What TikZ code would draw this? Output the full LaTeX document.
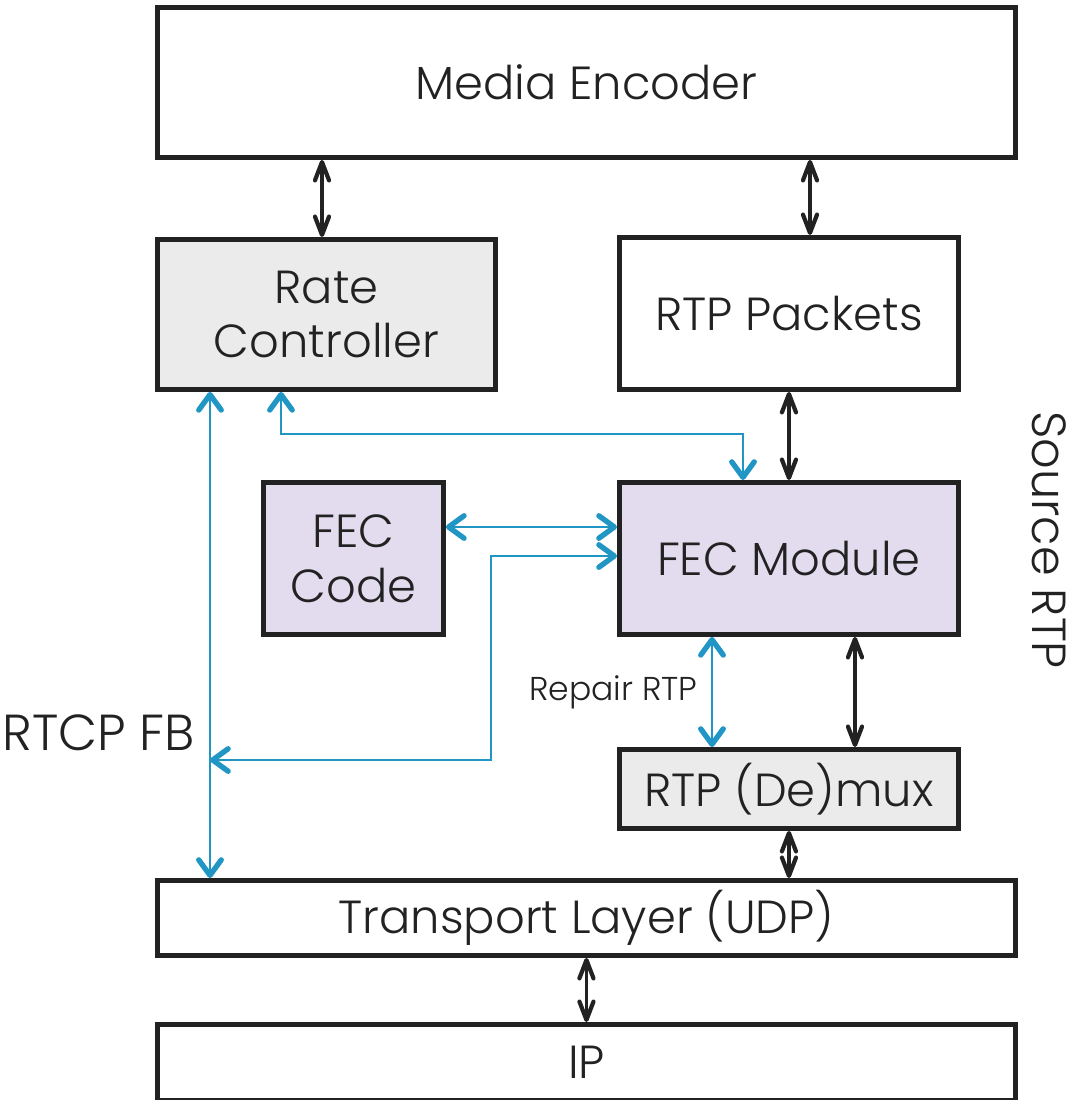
\documentclass[tikz,border=0pt]{standalone}
\usepackage{fontspec}
\setmainfont{Poppins}[UprightFont=* Light]
\usepackage{tikz}
\usetikzlibrary{positioning,calc,arrows.meta}

\definecolor{fecblue}{RGB}{33,150,196}
\definecolor{boxgray}{RGB}{235,235,235}
\definecolor{fecpurple}{RGB}{227,220,239}
\definecolor{inkdark}{RGB}{34,34,34}
\newcommand{\pxl}{0.025cm}

\begin{document}
\begin{tikzpicture}[x=0.025cm, y=-0.025cm,
    box/.style={draw=inkdark, line width=3.5pt, anchor=north west, inner sep=0pt, align=center,
        text=inkdark, font=\fontsize{33}{39}\selectfont},
    lbl/.style={text=inkdark, font=\fontsize{34}{40}\selectfont},
    blk/.style={draw=inkdark, line width=2.2pt,
        {Straight Barb[length=13pt,width=10pt,line width=3pt,round]}-{Straight Barb[length=13pt,width=10pt,line width=3pt,round]}},
    blu/.style={draw=fecblue, line width=1.9pt,
        {Straight Barb[length=11pt,width=16pt,line width=3.8pt,round]}-{Straight Barb[length=11pt,width=16pt,line width=3.8pt,round]}}]
    \useasboundingbox (0,0) rectangle (1072,1100);

    \node[box, minimum width=858*\pxl, minimum height=150*\pxl] (enc) at (155,5) {Media Encoder};
    \node[box, fill=boxgray, minimum width=338*\pxl, minimum height=150*\pxl] (rate) at (155,237) {Rate\\Controller};
    \node[box, minimum width=339*\pxl, minimum height=152*\pxl] (pkts) at (617,235) {RTP Packets};
    \node[box, fill=fecpurple, minimum width=180*\pxl, minimum height=152*\pxl] (code) at (261,480) {FEC\\Code};
    \node[box, fill=fecpurple, minimum width=339*\pxl, minimum height=152*\pxl] (fec) at (617,480) {FEC Module};
    \node[box, fill=boxgray, minimum width=339*\pxl, minimum height=79*\pxl] (demux) at (617,747) {RTP (De)mux};
    \node[box, minimum width=858*\pxl, minimum height=75*\pxl] (udp) at (155,878) {Transport Layer (UDP)};
    \node[box, minimum width=858*\pxl, minimum height=76*\pxl] (ip) at (155,1022) {IP};

    \node[lbl, anchor=east, font=\fontsize{36}{42}\selectfont] (rtcp) at (200,733) {RTCP FB};
    \node[lbl, rotate=-90] (src) at (1049,540) {Source RTP};

    \draw[blk] (enc.south -| 322,0) -- (rate.north -| 322,0);
    \draw[blk] (enc.south -| 810,0) -- (pkts.north -| 810,0);
    \draw[blk] (pkts.south) -- (fec.north);
    \draw[blk] (fec.south -| 855,0) -- (demux.north -| 855,0);
    \draw[blk] (demux.south) -- (udp.north -| demux.south);
    \draw[blk] (udp.south) -- (ip.north);

    \coordinate (fb) at (210,760);
    \draw[blu] (rate.south -| fb) -- (udp.north -| fb);
    \draw[blu] (rate.south -| 281,0) |- (743,434) -- (fec.north -| 743,0);
    \draw[blu] (code.east |- 0,527) -- (fec.west |- 0,527);
    \draw[blu] (fec.west |- 0,556) -| (491,760) -- (fb);
    \draw[blu] (fec.south -| 712,0) -- (demux.north -| 712,0)
        node[midway, left=6pt, text=inkdark, font=\fontsize{23.5}{28}\selectfont] {Repair RTP};
\end{tikzpicture}
\end{document}
